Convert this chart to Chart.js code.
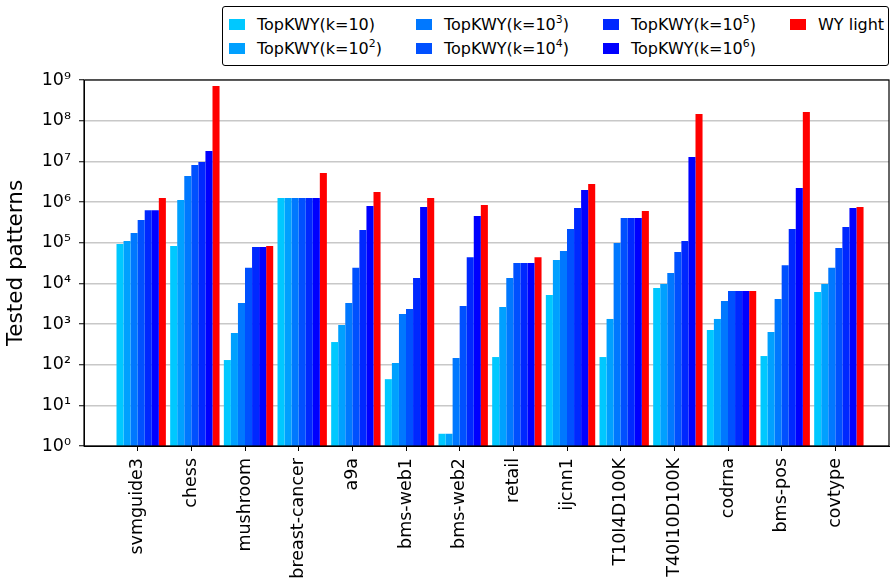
<!DOCTYPE html>
<html>
<head>
<meta charset="utf-8">
<script src="https://cdn.jsdelivr.net/npm/chart.js@4/dist/chart.umd.min.js"></script>
<style>
  html, body { margin: 0; padding: 0; background: #fff; }
  #wrap { position: relative; width: 890px; height: 580px; }
  #legend {
    position: absolute; left: 222px; top: 6px; width: 667px; height: 60px;
    box-sizing: border-box; border: 1.3px solid #000; border-radius: 3px; background: #fff;
    font-family: "DejaVu Sans"; font-size: 16px; color: #000;
    display: grid; grid-template-columns: repeat(4, 187px); grid-template-rows: 24px 24px;
    grid-auto-flow: column; padding: 5px 0 0 6px;
  }
  .item { display: flex; align-items: center; white-space: nowrap; }
  .swatch { width: 16px; height: 11px; margin-right: 12px; flex: none; }
  sup { font-size: 68%; line-height: 0; vertical-align: 0.6em; }
</style>
</head>
<body>
<div id="wrap">
  <canvas id="tested_graf" width="890" height="580"></canvas>
  <div id="legend"></div>
</div>
<script>
// データセット名 (x軸)
const categories = ["svmguide3", "chess", "mushroom", "breast-cancer", "a9a", "bms-web1", "bms-web2",
                    "retail", "ijcnn1", "T10I4D100K", "T40I10D100K", "codrna", "bms-pos", "covtype"];

// 各手法のテストパターン数
const topk10  = [9.3e4, 8.3e4, 130,    1.25e6, 360,    44,     2,      154,    5.2e3,  154,    7.7e3,  712,    163,    6.1e3];
const topk1e2 = [1.1e5, 1.12e6, 600,   1.25e6, 945,    110,    2,      2.6e3,  3.75e4, 1.33e3, 9.6e3,  1.33e3, 636,    9.6e3];
const topk1e3 = [1.73e5, 4.36e6, 3.3e3, 1.25e6, 3.3e3, 1.76e3, 146,    1.35e4, 6.2e4,  9.8e4,  1.8e4,  3.7e3,  4.1e3,  2.4e4];
const topk1e4 = [3.6e5, 8.1e6, 2.4e4,  1.25e6, 2.4e4,  2.34e3, 2.77e3, 3.16e4, 2.17e5, 4.05e5, 5.9e4,  6.5e3,  2.8e4,  7.4e4];
const topk1e5 = [6.3e5, 9.6e6, 7.8e4,  1.25e6, 2.04e5, 1.35e4, 4.4e4,  3.16e4, 7.1e5,  4.05e5, 1.1e5,  6.5e3,  2.17e5, 2.43e5];
const topk1e6 = [6.3e5, 1.8e7, 7.8e4,  1.25e6, 8e5,    7.5e5,  4.5e5,  3.16e4, 1.97e6, 4.05e5, 1.28e7, 6.5e3,  2.2e6,  7.1e5];
const wyLight = [1.25e6, 7.1e8, 8.3e4, 5.2e6,  1.76e6, 1.25e6, 8.4e5,  4.4e4,  2.77e6, 6e5,    1.46e8, 6.5e3,  1.63e8, 7.5e5];

// 凡例の k の指数 (null = 10)
const kExponents = [null, 2, 3, 4, 5, 6];
const seriesColors = ["#00c8ff", "#00a0ff", "#0078ff", "#0050ff", "#0028ff", "#0000ff", "#ff0000"];

// y軸の目盛り
const yTickValues = [1, 1e1, 1e2, 1e3, 1e4, 1e5, 1e6, 1e7, 1e8, 1e9];
const yTickLabels = ["10⁰", "10¹", "10²", "10³", "10⁴", "10⁵", "10⁶", "10⁷", "10⁸", "10⁹"];

const seriesData = [topk10, topk1e2, topk1e3, topk1e4, topk1e5, topk1e6, wyLight];
const seriesLabels = kExponents.map(e => e === null ? "TopKWY(k=10)" : "TopKWY(k=10^" + e + ")").concat(["WY light"]);

const groupWidth = 0.92;                                 // カテゴリ内の棒グループ幅
const tickShift = groupWidth / seriesData.length / 2;   // 目盛りは棒グループの中心から半本分左

const frame = {
    id: "frame",
    afterDraw(chart) {
        const a = chart.chartArea;
        const c = chart.ctx;
        c.save();
        c.strokeStyle = "#000";
        c.lineWidth = 1.2;
        c.strokeRect(a.left, a.top, a.right - a.left, a.bottom - a.top);
        c.restore();
    }
};

Chart.defaults.font.family = "DejaVu Sans";
Chart.defaults.color = "#000";

const ctx = document.getElementById("tested_graf").getContext("2d");
const chart = new Chart(ctx, {
    type: "bar",
    data: {
        datasets: seriesData.map((vals, j) => ({
            label: seriesLabels[j],
            data: vals.map((v, i) => ({ x: i + 1, y: v })),
            backgroundColor: seriesColors[j],
            borderWidth: 0,
            categoryPercentage: groupWidth,
            barPercentage: 1
        }))
    },
    options: {
        responsive: false,
        animation: false,
        layout: { padding: { top: 80, right: 1, left: 0, bottom: 0 } },
        plugins: { legend: { display: false }, tooltip: { enabled: false } },
        scales: {
            x: {
                type: "linear",
                offset: false,
                min: -tickShift,
                max: categories.length + 1 - tickShift,
                afterBuildTicks: (axis) => {
                    axis.ticks = categories.map((c, i) => ({ value: i + 1 - tickShift }));
                },
                afterFit: (axis) => { axis.height = 134; },
                ticks: {
                    autoSkip: false,
                    minRotation: 90,
                    maxRotation: 90,
                    padding: 7,
                    font: { size: 17.5 },
                    callback: (v, i) => categories[i]
                },
                grid: { offset: false, drawOnChartArea: false, tickLength: 5, tickColor: "#000", tickWidth: 1 },
                border: { color: "#000", width: 1 }
            },
            y: {
                type: "logarithmic",
                min: 1,
                max: 1e9,
                afterBuildTicks: (axis) => {
                    axis.ticks = yTickValues.map(v => ({ value: v, major: true }));
                },
                afterFit: (axis) => { axis.width = 84; },
                ticks: {
                    padding: 8,
                    font: { size: 17.5 },
                    callback: (v, i) => yTickLabels[i]
                },
                grid: { color: "#c8c8c8", lineWidth: 1.5, tickLength: 5, tickColor: "#000", tickWidth: 1 },
                border: { color: "#000", width: 1 },
                title: {
                    display: true,
                    text: "Tested patterns",
                    font: { size: 21.5 },
                    padding: { top: 4, bottom: 0 }
                }
            }
        }
    },
    plugins: [frame]
});

// 凡例 (4列×2行, 列順)
const legend = document.getElementById("legend");
seriesLabels.forEach((lab, j) => {
    const item = document.createElement("div");
    item.className = "item";
    const sw = document.createElement("span");
    sw.className = "swatch";
    sw.style.background = seriesColors[j];
    const txt = document.createElement("span");
    const e = kExponents[j];
    if (j < kExponents.length && e !== null) {
        txt.innerHTML = "TopKWY(k=10<sup>" + e + "</sup>)";
    } else {
        txt.textContent = lab;
    }
    item.appendChild(sw);
    item.appendChild(txt);
    legend.appendChild(item);
});
</script>
</body>
</html>
